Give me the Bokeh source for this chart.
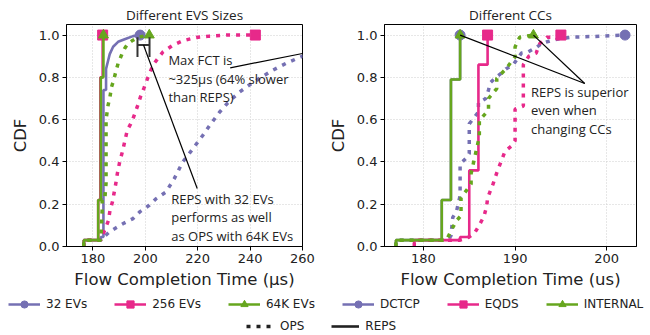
from bokeh.plotting import figure
from bokeh.layouts import column, row
from bokeh.models import Range1d, FixedTicker, NumeralTickFormatter, Legend, LegendItem
from bokeh.core.properties import value
from bokeh.embed import file_html
from bokeh.resources import INLINE

PURPLE = "#7570b3"
PINK = "#e7298a"
GREEN = "#66a61e"

# ---------------- Left panel: Different EVS Sizes ----------------
evs_labels = ["32 EVs", "256 EVs", "64K EVs"]

evs32_ops_x = [176.5, 176.5, 183, 184, 186.4, 189, 192.1, 195.3, 198, 201.5, 204, 207.9, 211, 214.3, 218,
               221.9, 225, 228.3, 231.5, 235.9, 239.8, 244.2, 248.7, 253.7, 258.8, 265, 275, 290, 305, 325]
evs32_ops_y = [0, 0.03, 0.03, 0.043, 0.07, 0.09, 0.112, 0.132, 0.165, 0.195, 0.225, 0.258, 0.32, 0.40, 0.46,
               0.525, 0.58, 0.635, 0.68, 0.73, 0.765, 0.80, 0.834, 0.866, 0.894, 0.925, 0.955, 0.978, 0.992, 1.0]
evs32_reps_x = [176.5, 176.5, 183, 183, 184, 184, 185, 185, 185.8, 186.4, 187.7, 189.6, 192.1, 195.3, 198]
evs32_reps_y = [0, 0.03, 0.03, 0.045, 0.045, 0.74, 0.74, 0.84, 0.88, 0.91, 0.945, 0.968, 0.98, 0.995, 1.0]

evs256_ops_x = [176.5, 176.5, 183, 184.4, 185.9, 186.5, 187.4, 188, 188.7, 189.3, 190.2, 191.2, 192.2, 193.1,
                194.4, 195.6, 196.9, 198.2, 199.5, 201, 203, 206.7, 210.5, 214.3, 219.4, 224.5, 230.9, 242]
evs256_ops_y = [0, 0.03, 0.03, 0.075, 0.122, 0.17, 0.209, 0.249, 0.296, 0.344, 0.40, 0.446, 0.50, 0.55,
                0.58, 0.615, 0.66, 0.71, 0.75, 0.80, 0.86, 0.92, 0.952, 0.973, 0.989, 0.995, 1.0, 1.0]
evs256_reps_x = [176.5, 176.5, 182, 182, 182.8, 182.8, 183.7, 183.7]
evs256_reps_y = [0, 0.03, 0.03, 0.22, 0.22, 0.80, 0.80, 1.0]

evs64k_ops_x = [176.5, 176.5, 183, 183.5, 183.5, 184.5, 185, 185, 185.8, 186.4, 187.1, 188, 188.7, 189.6,
                190.9, 192.1, 193.4, 195.3, 197.2, 201.5]
evs64k_ops_y = [0, 0.03, 0.03, 0.17, 0.22, 0.22, 0.30, 0.60, 0.67, 0.70, 0.755, 0.79, 0.826, 0.866,
                0.905, 0.937, 0.96, 0.976, 0.99, 1.0]
evs64k_reps_x = [176.5, 176.5, 182, 182, 183, 183, 184, 184]
evs64k_reps_y = [0, 0.03, 0.03, 0.22, 0.22, 0.80, 0.80, 1.0]

# ---------------- Right panel: Different CCs ----------------
cc_labels = ["DCTCP", "EQDS", "INTERNAL"]

dctcp_ops_x = [177, 177, 182.5, 183, 183.2, 183.6, 184, 184, 184.6, 185, 185, 186, 186, 186.8, 187.1, 187.3,
               187.9, 188.5, 189, 189.8, 190.7, 191.4, 192.4, 192.9, 194, 195.1, 196.2, 199.6, 202]
dctcp_ops_y = [0, 0.03, 0.03, 0.05, 0.138, 0.165, 0.24, 0.39, 0.415, 0.44, 0.58, 0.636, 0.68, 0.70, 0.74,
               0.775, 0.80, 0.82, 0.84, 0.86, 0.915, 0.92, 0.944, 0.96, 0.975, 0.984, 0.99, 0.995, 1.0]
dctcp_reps_x = [177, 177, 182, 182, 183, 183, 184, 184]
dctcp_reps_y = [0, 0.03, 0.03, 0.22, 0.22, 0.79, 0.79, 1.0]

eqds_ops_x = [179, 179, 184, 185, 185.6, 186, 186.6, 186.9, 187, 187.6, 188, 188.9, 189.6, 190, 190, 190.9,
              190.9, 191.5, 192.3, 192.7, 193.5, 194, 195]
eqds_ops_y = [0, 0.03, 0.03, 0.045, 0.065, 0.094, 0.142, 0.19, 0.23, 0.296, 0.348, 0.45, 0.475, 0.5, 0.65, 0.664,
              0.86, 0.90, 0.915, 0.96, 0.99, 0.99, 1.0]
eqds_reps_x = [179, 179, 184, 184, 185, 185, 186, 186, 187, 187]
eqds_reps_y = [0, 0.03, 0.03, 0.045, 0.045, 0.36, 0.36, 0.86, 0.86, 1.0]

internal_ops_x = [177, 177, 182.5, 183.2, 183.6, 184.1, 184.1, 185.2, 185.2, 186.1, 186.1, 187.1, 187.1, 188,
                  188, 189, 190, 190, 190.5, 191.1, 192]
internal_ops_y = [0, 0.03, 0.03, 0.09, 0.122, 0.146, 0.23, 0.296, 0.345, 0.52, 0.597, 0.644, 0.70, 0.747,
                  0.795, 0.84, 0.897, 0.944, 0.99, 0.995, 1.0]
internal_reps_x = [177, 177, 182, 182, 183, 183, 184, 184]
internal_reps_y = [0, 0.03, 0.03, 0.22, 0.22, 0.79, 0.79, 1.0]

y_ticks = [0.0, 0.2, 0.4, 0.6, 0.8, 1.0]
left_x_ticks = [180, 200, 220, 240, 260]
right_x_ticks = [180, 190, 200]

COLORS = [PURPLE, PINK, GREEN]
MARKERS = ["circle", "square", "triangle"]
TXT = "#222222"
ANN_FONT = "Open Sans"

SOLID_W = 2.6
DOT_W = 3.5
DOT_DASH = "4 6"
LINE_H = 1.03


def style(p, xlabel, xticks):
    p.title.text_font = ANN_FONT
    p.title.text_font_size = "13.5px"
    p.title.text_font_style = "normal"
    p.title.align = "center"
    p.title.text_color = TXT
    p.title.standoff = 2
    p.outline_line_color = "black"
    p.outline_line_width = 1
    p.background_fill_color = "white"
    p.border_fill_color = "white"
    for ax in (p.xaxis[0], p.yaxis[0]):
        ax.axis_line_color = "black"
        ax.major_tick_line_color = "black"
        ax.major_tick_out = 4
        ax.major_tick_in = 0
        ax.minor_tick_out = 0
        ax.minor_tick_in = 0
        ax.major_label_text_font = "DejaVu Sans"
        ax.major_label_text_font_size = "13px"
        ax.major_label_text_color = TXT
        ax.major_label_standoff = 3
        ax.axis_label_text_font = "DejaVu Sans"
        ax.axis_label_text_font_size = "16.5px"
        ax.axis_label_text_font_style = "normal"
        ax.axis_label_text_color = TXT
    p.xaxis.ticker = FixedTicker(ticks=xticks)
    p.yaxis.ticker = FixedTicker(ticks=y_ticks)
    p.yaxis.formatter = NumeralTickFormatter(format="0.0")
    p.xaxis.axis_label = xlabel
    p.yaxis.axis_label = "CDF"
    p.xaxis.axis_label_standoff = 4
    p.yaxis.axis_label_standoff = 6
    p.grid.grid_line_color = "#cfcfcf"
    p.grid.grid_line_dash = "1 2"
    p.grid.grid_line_width = 1


def draw(p, series):
    for (x, y, color, marker, dotted) in series:
        if dotted:
            p.line(x, y, line_color=color, line_width=DOT_W, line_dash=DOT_DASH)
        else:
            p.line(x, y, line_color=color, line_width=SOLID_W)
        p.scatter([x[-1]], [y[-1]], marker=marker, size=10, fill_color=color, line_color=color)


# Left figure
p1 = figure(width=320, height=292, x_range=Range1d(169.9, 260), y_range=Range1d(0, 1.05),
            title="Different EVS Sizes", output_backend="svg", toolbar_location=None,
            min_border_left=66, min_border_right=18, min_border_top=24, min_border_bottom=46)
style(p1, "Flow Completion Time (µs)", left_x_ticks)
draw(p1, [
    (evs32_ops_x, evs32_ops_y, PURPLE, "circle", True),
    (evs32_reps_x, evs32_reps_y, PURPLE, "circle", False),
    (evs256_ops_x, evs256_ops_y, PINK, "square", True),
    (evs256_reps_x, evs256_reps_y, PINK, "square", False),
    (evs64k_ops_x, evs64k_ops_y, GREEN, "triangle", True),
    (evs64k_reps_x, evs64k_reps_y, GREEN, "triangle", False),
])
# |-| bracket between REPS 32 EVs and OPS 64K EVs
p1.segment(x0=[197, 201.6, 197], y0=[0.896, 0.896, 0.953], x1=[197, 201.6, 201.6], y1=[0.99, 0.99, 0.953],
           line_color="#333333", line_width=2)
p1.segment(x0=[232.4, 199.3], y0=[0.845, 0.953], x1=[260, 219.8], y1=[0.913, 0.274],
           line_color="black", line_width=1.2)
p1.text(x=[208.8, 209.9], y=[0.794, 0.138],
        text=["Max FCT is\n~325µs (64% slower\nthan REPS)", "REPS with 32 EVs\nperforms as well\nas OPS with 64K EVs"],
        text_font=value(ANN_FONT), text_font_size="13px", text_align="left", text_baseline="middle",
        text_line_height=LINE_H, text_color=TXT)

# Right figure
p2 = figure(width=330, height=292, x_range=Range1d(175.75, 203.25), y_range=Range1d(0, 1.05),
            title="Different CCs", output_backend="svg", toolbar_location=None,
            min_border_left=64, min_border_right=14, min_border_top=24, min_border_bottom=46)
style(p2, "Flow Completion Time (us)", right_x_ticks)
draw(p2, [
    (dctcp_ops_x, dctcp_ops_y, PURPLE, "circle", True),
    (dctcp_reps_x, dctcp_reps_y, PURPLE, "circle", False),
    (eqds_ops_x, eqds_ops_y, PINK, "square", True),
    (eqds_reps_x, eqds_reps_y, PINK, "square", False),
    (internal_ops_x, internal_ops_y, GREEN, "triangle", True),
    (internal_reps_x, internal_reps_y, GREEN, "triangle", False),
])
p2.segment(x0=[197.6, 197.6], y0=[0.771, 0.771], x1=[internal_reps_x[-1], internal_ops_x[-1]],
           y1=[internal_reps_y[-1], internal_ops_y[-1]], line_color="black", line_width=1.2)
p2.text(x=[191.73], y=[0.644], text=["REPS is superior\neven when\nchanging CCs"],
        text_font=value(ANN_FONT), text_font_size="13px", text_align="left", text_baseline="middle",
        text_line_height=LINE_H, text_color=TXT)

# Legend strip
p3 = figure(width=650, height=43, x_range=Range1d(0, 1), y_range=Range1d(0, 1),
            output_backend="svg", toolbar_location=None, min_border=0)
p3.axis.visible = False
p3.grid.visible = False
p3.outline_line_color = None

items1 = []
for lab, col, mk in list(zip(evs_labels, COLORS, MARKERS)) + list(zip(cc_labels, COLORS, MARKERS)):
    rl = p3.line([5, 6], [5, 6], line_color=col, line_width=SOLID_W)
    rm = p3.scatter([5], [5], marker=mk, size=9, fill_color=col, line_color=col)
    items1.append(LegendItem(label=lab, renderers=[rl, rm]))
r_ops = p3.line([5, 6], [5, 6], line_color=TXT, line_width=DOT_W, line_dash=DOT_DASH)
r_reps = p3.line([5, 6], [5, 6], line_color=TXT, line_width=SOLID_W)
items2 = [LegendItem(label="OPS", renderers=[r_ops]), LegendItem(label="REPS", renderers=[r_reps])]


def mk_legend(items, loc, gw, gh):
    return Legend(items=items, location=loc, orientation="horizontal", glyph_width=gw, glyph_height=gh,
                  label_standoff=6, spacing=27, padding=0, margin=0, border_line_color=None,
                  background_fill_alpha=0, label_text_font="DejaVu Sans", label_text_font_size="12px",
                  label_text_color=TXT, label_height=gh)


p3.add_layout(mk_legend(items1, (8, 22), 32, 18), "center")
p3.add_layout(mk_legend(items2, (246, 0), 28, 18), "center")

layout = column(row(p1, p2), p3)
open("out.html", "w").write(file_html(layout, INLINE))
